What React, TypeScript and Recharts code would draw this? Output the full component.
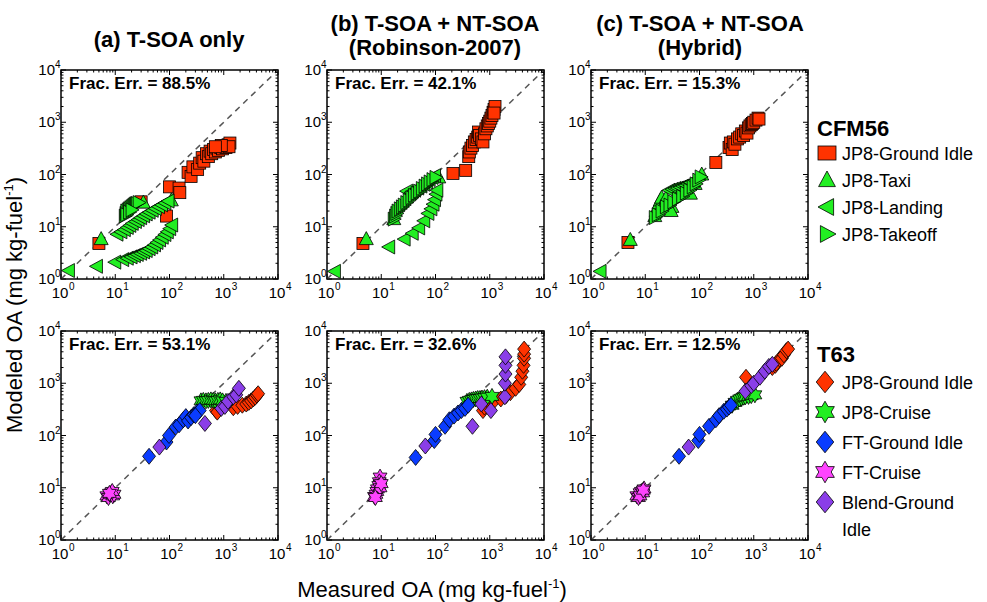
import React from 'react';
import { ScatterChart, Scatter, XAxis, YAxis, ReferenceLine, ReferenceArea } from 'recharts';

type Pt = [number, number];

// ---- CFM56 engine, (a) T-SOA only ----
const aGroundIdle: Pt[] = [[5, 4.8], [30, 30], [88, 16], [100, 58], [150, 55], [155, 45], [220, 110], [250, 92], [270, 140], [330, 125], [360, 165], [400, 210], [430, 180], [480, 250], [520, 220], [560, 280], [600, 250], [650, 300], [700, 270], [750, 320], [800, 290], [880, 330], [950, 310], [1000, 350], [1100, 330], [1200, 370], [1300, 400], [1250, 340], [900, 360], [700, 340]];
const aTaxi: Pt[] = [[5.5, 5.8], [33, 29], [108, 32]];
const aLanding: Pt[] = [[1.4, 1.45], [4.6, 1.75], [10, 2.1], [14, 2.35], [17, 2.5], [20, 2.65], [23, 2.8], [26, 2.95], [30, 3.1], [34, 3.3], [38, 3.5], [43, 3.8], [48, 4.1], [54, 4.5], [60, 5.0], [67, 5.6], [75, 6.3], [84, 7.1], [93, 8.0], [103, 9.2], [112, 10.8], [11, 7.2], [13, 8], [15, 8.8], [17, 9.7], [19, 10.6], [21, 11.6], [24, 12.6], [27, 13.7], [30, 14.9], [34, 16.2], [38, 17.6], [43, 19], [49, 20.6], [56, 22.3], [64, 24.2], [73, 26.2], [84, 28.5], [96, 31]];
const aTakeoff: Pt[] = [[15, 16], [15.5, 18], [16, 20], [17, 21], [18, 22], [19, 23], [20, 24], [21, 25], [22, 26], [23, 27], [24, 27.5], [25, 28], [27, 29], [16, 17], [18, 19], [20, 21]];

// ---- CFM56, (b) Robinson-2007 ----
const bGroundIdle: Pt[] = [[4.6, 4.8], [210, 105], [360, 120], [410, 220], [420, 270], [450, 320], [480, 360], [520, 420], [560, 470], [600, 520], [620, 650], [650, 560], [700, 480], [750, 420], [800, 600], [850, 750], [900, 850], [950, 950], [1000, 1050], [1050, 1200], [1100, 1350], [1150, 1550], [1200, 1750], [1250, 2000], [1200, 1500]];
const bTaxi: Pt[] = [[5.3, 5.8], [115, 88], [17, 14]];
const bLanding: Pt[] = [[1.4, 1.4], [14, 4.1], [27, 5.8], [38, 7.5], [50, 9.5], [62, 13], [74, 18], [84, 22], [92, 27], [98, 33], [104, 42], [108, 50], [30, 48], [36, 45], [42, 50], [48, 55], [55, 60], [62, 65], [70, 72], [78, 80], [88, 88], [98, 95]];
const bTakeoff: Pt[] = [[17, 14], [18, 16], [19, 18], [20, 20], [22, 22], [24, 24], [26, 26], [29, 29], [32, 32], [36, 36], [40, 40], [45, 44], [50, 48], [56, 54], [63, 60], [70, 66], [78, 72], [88, 80], [100, 88]];

// ---- CFM56, (c) Hybrid ----
const cGroundIdle: Pt[] = [[4.8, 5], [200, 170], [350, 330], [370, 400], [400, 300], [420, 420], [450, 380], [500, 480], [550, 520], [600, 600], [650, 560], [700, 680], [750, 620], [800, 780], [850, 850], [900, 900], [950, 950], [1000, 1000], [1100, 1100], [1200, 1200], [1250, 1150]];
const cTaxi: Pt[] = [[5.3, 5.6], [15, 16], [16, 20], [17, 24], [18, 28], [19, 32], [20, 36], [22, 25], [23, 30], [24, 35], [31, 24], [68, 43], [83, 66], [110, 100], [30, 20]];
const cLanding: Pt[] = [[1.5, 1.4], [28, 50], [32, 52], [36, 54], [40, 55], [45, 57], [50, 60], [56, 62], [62, 66], [70, 70]];
const cTakeoff: Pt[] = [[15, 15], [17, 17], [20, 20], [24, 24], [28, 26], [33, 30], [40, 34], [48, 38], [56, 44], [65, 50], [75, 58], [85, 66], [95, 78], [105, 90]];

// ---- T63 engine, (a) ----
const dJp8Idle: Pt[] = [[720, 300], [760, 280], [1500, 340], [1800, 360], [2200, 380], [2600, 400], [2900, 430], [3200, 460], [3500, 500], [3800, 540], [4100, 590], [4300, 630]];
const dJp8Cruise: Pt[] = [[380, 460], [420, 470], [470, 460], [520, 470], [580, 480], [640, 470], [700, 460], [780, 470], [860, 480], [950, 460], [1100, 450]];
const dFtIdle: Pt[] = [[42, 40], [88, 75], [98, 100], [130, 145], [150, 160], [180, 200], [200, 230], [220, 190], [250, 220], [280, 250], [320, 280], [360, 300], [300, 240]];
const dFtCruise: Pt[] = [[7, 7], [7.5, 6.5], [8, 7.5], [8.5, 8], [9, 7], [9.5, 7.5], [8.8, 8.5], [7.8, 7.8]];
const dBlendIdle: Pt[] = [[65, 60], [450, 170], [900, 330], [1050, 360], [1200, 450], [1500, 550], [1700, 600], [1900, 800]];

// ---- T63, (b) ----
const eJp8Idle: Pt[] = [[750, 300], [800, 350], [1000, 420], [1200, 460], [1600, 500], [2000, 580], [2400, 660], [3000, 800], [3500, 950], [3800, 1300], [4000, 1700], [4200, 2200], [4300, 3000], [4300, 3600], [4300, 4500]];
const eJp8Cruise: Pt[] = [[380, 450], [420, 470], [460, 480], [500, 490], [550, 500], [600, 510], [660, 510], [720, 520], [800, 530], [900, 540], [1100, 560]];
const eFtIdle: Pt[] = [[43, 38], [95, 80], [100, 105], [150, 150], [180, 200], [220, 235], [260, 270], [300, 300], [350, 330], [400, 380]];
const eFtCruise: Pt[] = [[9.5, 16], [9.2, 13], [9, 11], [8.5, 9.5], [8.3, 8.5], [8, 7.5], [7.5, 6.8], [9.5, 10], [7.8, 6.5], [10, 12]];
const eBlendIdle: Pt[] = [[65, 63], [480, 150], [1050, 300], [700, 400], [1900, 550], [1900, 1000], [1950, 1500], [1950, 2200], [1950, 3200]];

// ---- T63, (c) ----
const fJp8Idle: Pt[] = [[720, 1300], [2200, 2000], [2500, 2200], [2600, 2400], [3000, 2900], [3300, 3000], [3600, 3500], [4000, 4200], [4300, 4500]];
const fJp8Cruise: Pt[] = [[400, 380], [450, 430], [500, 470], [550, 500], [600, 520], [650, 540], [700, 550], [800, 560], [900, 580], [1050, 600]];
const fFtIdle: Pt[] = [[42, 40], [95, 80], [100, 105], [150, 150], [200, 200], [230, 240], [280, 290], [320, 320], [350, 350], [380, 380]];
const fFtCruise: Pt[] = [[7, 7], [7.5, 6.5], [8, 8], [8.5, 8.5], [9, 8], [9.5, 9.5], [8, 7], [9.2, 9]];
const fBlendIdle: Pt[] = [[63, 60], [700, 700], [900, 900], [1000, 1000], [1300, 1300], [1600, 1700], [1900, 2100], [2200, 2300]];

const fracErrTop = ['88.5%', '42.1%', '15.3%'];
const fracErrBottom = ['53.1%', '32.6%', '12.5%'];

const cfmLabels = ['JP8-Ground Idle', 'JP8-Taxi', 'JP8-Landing', 'JP8-Takeoff'];
const t63Labels = ['JP8-Ground Idle', 'JP8-Cruise', 'FT-Ground Idle', 'FT-Cruise', 'Blend-Ground'];

const decades = [1, 10, 100, 1000];
const TICKS = [...decades.flatMap((d) => [1, 2, 3, 4, 5, 6, 7, 8, 9].map((m) => m * d)), 10000];

const FONT = "'Liberation Sans', Arial, Helvetica, sans-serif";
const PLOT_W = 217;
const PLOT_H = 209;
const ML = 50;
const MT = 10;

const RED = '#ff3300';
const GREEN = '#22ee22';
const BLUE = '#0a3cff';
const MAGENTA = '#ff44ff';
const PURPLE = '#8a3ee8';

type Kind = 'square' | 'triUp' | 'triLeft' | 'triRight' | 'diamond' | 'hexagram';

function Marker({ kind, cx, cy, fill, s = 1 }: { kind: Kind; cx: number; cy: number; fill: string; s?: number }) {
  const common = { fill, stroke: '#000', strokeWidth: 0.8 };
  if (kind === 'square') {
    const h = 6 * s;
    return <rect x={cx - h} y={cy - h} width={2 * h} height={2 * h} {...common} />;
  }
  let pts: number[][] = [];
  if (kind === 'triUp') pts = [[0, -7.5], [-7, 5.5], [7, 5.5]];
  if (kind === 'triLeft') pts = [[-7.5, 0], [5.5, -7], [5.5, 7]];
  if (kind === 'triRight') pts = [[7.5, 0], [-5.5, -7], [-5.5, 7]];
  if (kind === 'diamond') pts = [[0, -8], [6.5, 0], [0, 8], [-6.5, 0]];
  if (kind === 'hexagram') {
    for (let k = 0; k < 12; k++) {
      const a = ((-90 + k * 30) * Math.PI) / 180;
      const r = k % 2 === 0 ? 8 : 4.6;
      pts.push([r * Math.cos(a), r * Math.sin(a)]);
    }
  }
  return <polygon points={pts.map(([x, y]) => `${cx + x * s},${cy + y * s}`).join(' ')} {...common} />;
}

type SeriesDef = { name: string; data: Pt[]; kind: Kind; fill: string };

const toXY = (d: Pt[]) => d.map(([x, y]) => ({ x, y }));

const isMajor = (v: number) => Math.abs(Math.log10(v) - Math.round(Math.log10(v))) < 1e-9;

function XTick(props: any) {
  const { x, y, payload } = props;
  const v = payload.value;
  const major = isMajor(v);
  const len = major ? 5 : 2.5;
  return (
    <g>
      <line x1={x} y1={y} x2={x} y2={y - len} stroke="#000" strokeWidth={1} />
      <line x1={x} y1={y - PLOT_H} x2={x} y2={y - PLOT_H + len} stroke="#000" strokeWidth={1} />
      {major && (
        <g fontFamily={FONT} fill="#000">
          <text x={x - 1} y={y + 19} textAnchor="middle" fontSize={15}>10</text>
          <text x={x + 8} y={y + 11} textAnchor="start" fontSize={10}>{Math.round(Math.log10(v))}</text>
        </g>
      )}
    </g>
  );
}

function YTick(props: any) {
  const { x, y, payload } = props;
  const v = payload.value;
  const major = isMajor(v);
  const len = major ? 5 : 2.5;
  return (
    <g>
      <line x1={x} y1={y} x2={x + len} y2={y} stroke="#000" strokeWidth={1} />
      <line x1={x + PLOT_W} y1={y} x2={x + PLOT_W - len} y2={y} stroke="#000" strokeWidth={1} />
      {major && (
        <g fontFamily={FONT} fill="#000">
          <text x={x - 6} y={y + 5} textAnchor="end" fontSize={15}>10</text>
          <text x={x - 6} y={y - 2} textAnchor="start" fontSize={10}>{Math.round(Math.log10(v))}</text>
        </g>
      )}
    </g>
  );
}

function Panel({ left, top, fracErr, series }: { left: number; top: number; fracErr: string; series: SeriesDef[] }) {
  return (
    <div style={{ position: 'absolute', left: left - ML, top: top - MT }}>
      <ScatterChart width={ML + PLOT_W + 20} height={MT + PLOT_H + 40} margin={{ top: MT, right: 20, bottom: 10, left: 0 }}>
        <XAxis type="number" dataKey="x" scale="log" domain={[1, 10000]} allowDataOverflow ticks={TICKS} interval={0} tickSize={0} tickMargin={0} height={30} axisLine={false} tick={(p: any) => <XTick {...p} />} />
        <YAxis type="number" dataKey="y" scale="log" domain={[1, 10000]} allowDataOverflow ticks={TICKS} interval={0} tickSize={0} tickMargin={0} width={ML} axisLine={false} tick={(p: any) => <YTick {...p} />} />
        <ReferenceLine segment={[{ x: 1, y: 1 }, { x: 10000, y: 10000 }]} stroke="#555" strokeWidth={1.5} strokeDasharray="6 5" />
        {series.map((s) => (
          <Scatter
            key={s.name}
            name={s.name}
            data={toXY(s.data)}
            isAnimationActive={false}
            shape={(p: any) => <Marker kind={s.kind} cx={p.cx} cy={p.cy} fill={s.fill} />}
          />
        ))}
        <ReferenceArea x1={1} x2={10000} y1={1} y2={10000} fill="none" fillOpacity={0} stroke="#000" strokeWidth={1.5} />
      </ScatterChart>
      <div style={{ position: 'absolute', left: ML + 8, top: MT + 4, fontFamily: FONT, fontWeight: 'bold', fontSize: 17, whiteSpace: 'nowrap', lineHeight: '20px' }}>
        Frac. Err. = {fracErr}
      </div>
    </div>
  );
}

const cfmSeries = (idle: Pt[], taxi: Pt[], landing: Pt[], takeoff: Pt[]): SeriesDef[] => [
  { name: cfmLabels[0], data: idle, kind: 'square', fill: RED },
  { name: cfmLabels[1], data: taxi, kind: 'triUp', fill: GREEN },
  { name: cfmLabels[2], data: landing, kind: 'triLeft', fill: GREEN },
  { name: cfmLabels[3], data: takeoff, kind: 'triRight', fill: GREEN },
];

const t63Series = (idle: Pt[], cruise: Pt[], ftIdle: Pt[], ftCruise: Pt[], blend: Pt[]): SeriesDef[] => [
  { name: t63Labels[0], data: idle, kind: 'diamond', fill: RED },
  { name: t63Labels[1], data: cruise, kind: 'hexagram', fill: GREEN },
  { name: t63Labels[2], data: ftIdle, kind: 'diamond', fill: BLUE },
  { name: t63Labels[3], data: ftCruise, kind: 'hexagram', fill: MAGENTA },
  { name: t63Labels[4], data: blend, kind: 'diamond', fill: PURPLE },
];

const LEFTS = [61, 327, 591];
const TOP_ROW = 70;
const BOTTOM_ROW = 331;

export default function App() {
  const topSeries = [
    cfmSeries(aGroundIdle, aTaxi, aLanding, aTakeoff),
    cfmSeries(bGroundIdle, bTaxi, bLanding, bTakeoff),
    cfmSeries(cGroundIdle, cTaxi, cLanding, cTakeoff),
  ];
  const bottomSeries = [
    t63Series(dJp8Idle, dJp8Cruise, dFtIdle, dFtCruise, dBlendIdle),
    t63Series(eJp8Idle, eJp8Cruise, eFtIdle, eFtCruise, eBlendIdle),
    t63Series(fJp8Idle, fJp8Cruise, fFtIdle, fFtCruise, fBlendIdle),
  ];
  const cfmKinds: [Kind, string][] = [['square', RED], ['triUp', GREEN], ['triLeft', GREEN], ['triRight', GREEN]];
  const t63Kinds: [Kind, string][] = [['diamond', RED], ['hexagram', GREEN], ['diamond', BLUE], ['hexagram', MAGENTA], ['diamond', PURPLE]];

  return (
    <div style={{ position: 'absolute', left: 0, top: 0, width: 987, height: 602, background: '#fff', overflow: 'hidden' }}>
      {LEFTS.map((l, i) => (
        <Panel key={`t${i}`} left={l} top={TOP_ROW} fracErr={fracErrTop[i]} series={topSeries[i]} />
      ))}
      {LEFTS.map((l, i) => (
        <Panel key={`b${i}`} left={l} top={BOTTOM_ROW} fracErr={fracErrBottom[i]} series={bottomSeries[i]} />
      ))}
      <svg width={987} height={602} style={{ position: 'absolute', left: 0, top: 0, pointerEvents: 'none' }} fontFamily={FONT}>
        <g fontWeight="bold" fontSize={22} textAnchor="middle">
          <text x={169} y={47}>(a) T-SOA only</text>
          <text x={435} y={31}>(b) T-SOA + NT-SOA</text>
          <text x={435} y={55}>(Robinson-2007)</text>
          <text x={700} y={31}>(c) T-SOA + NT-SOA</text>
          <text x={700} y={55}>(Hybrid)</text>
        </g>
        <text x={432} y={597} textAnchor="middle" fontSize={22}>
          Measured OA (mg kg-fuel<tspan fontSize={13} dy={-9}>-1</tspan><tspan dy={9}>)</tspan>
        </text>
        <text transform="translate(22,305) rotate(-90)" textAnchor="middle" fontSize={22}>
          Modeled OA (mg kg-fuel<tspan fontSize={13} dy={-9}>-1</tspan><tspan dy={9}>)</tspan>
        </text>

        <text x={817} y={136} fontSize={22} fontWeight="bold">CFM56</text>
        {cfmLabels.map((lab, i) => {
          const cy = 153 + i * 27;
          return (
            <g key={lab}>
              {cfmKinds[i][0] === 'square' ? (
                <rect x={818} y={cy - 7} width={18} height={14} fill={RED} stroke="#000" strokeWidth={0.8} />
              ) : (
                <Marker kind={cfmKinds[i][0]} cx={827} cy={cy} fill={cfmKinds[i][1]} s={1.2} />
              )}
              <text x={842} y={cy + 6.5} fontSize={18}>{lab}</text>
            </g>
          );
        })}

        <text x={817} y={362} fontSize={22} fontWeight="bold">T63</text>
        {t63Labels.map((lab, i) => {
          const cy = 382 + i * 30;
          return (
            <g key={lab + i}>
              <Marker kind={t63Kinds[i][0]} cx={825} cy={cy} fill={t63Kinds[i][1]} s={1.35} />
              <text x={842} y={cy + 6.5} fontSize={18}>{lab}</text>
            </g>
          );
        })}
        <text x={842} y={536} fontSize={18}>Idle</text>
      </svg>
    </div>
  );
}
